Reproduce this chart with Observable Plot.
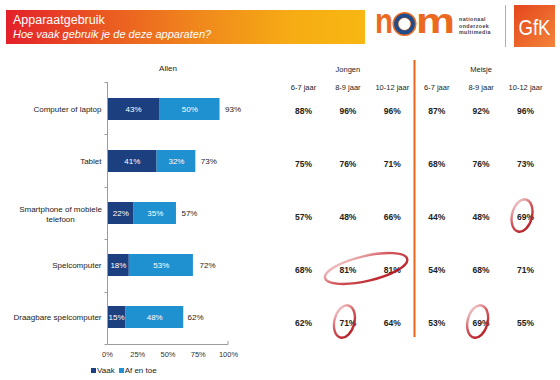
<!DOCTYPE html>
<html>
<head>
<meta charset="utf-8">
<script src="https://cdn.jsdelivr.net/npm/d3@7"></script>
<script src="https://cdn.jsdelivr.net/npm/@observablehq/plot@0.6"></script>
<style>
  body { margin: 0; background: #fff; }
  #root { position: relative; width: 560px; height: 380px; overflow: hidden; background: #fff;
          font-family: "Liberation Sans", Arial, sans-serif; }
  #banner { position: absolute; left: 6px; top: 10px; width: 359px; height: 34px;
            background: linear-gradient(90deg, #e3202b 0%, #ea5522 25%, #f08a1c 55%, #f6ac14 80%, #f8b712 100%); }
  #banner .t1 { position: absolute; left: 7px; top: 4.4px; color: #fff; font-size: 12.5px; line-height: 12.5px; white-space: nowrap; }
  #banner .t2 { position: absolute; left: 7px; top: 18.7px; color: #fff; font-size: 11px; line-height: 11px; font-style: italic; white-space: nowrap; }
  #logo { position: absolute; left: 0; top: 0; }
  #bars { position: absolute; left: 0; top: 56px; }
  #table { position: absolute; left: 270px; top: 56px; }
  #legend { position: absolute; left: 91px; top: 366px; }
  #legend > div { font-family: "Liberation Sans", Arial, sans-serif !important; font-size: 8px !important;
                  min-height: 0 !important; margin: 0 !important; color: #222 !important; }
  #legend span { margin-right: 4px !important; }
  #legend svg { margin-right: 1px !important; }
</style>
</head>
<body>
<div id="root">
  <div id="banner">
    <div class="t1">Apparaatgebruik</div>
    <div class="t2">Hoe vaak gebruik je de deze apparaten?</div>
  </div>
  <svg id="logo" width="560" height="56" xmlns="http://www.w3.org/2000/svg">
    <defs>
      <linearGradient id="gfkg" x1="0" y1="0" x2="1" y2="1">
        <stop offset="0" stop-color="#e4461b"/>
        <stop offset="1" stop-color="#f3843a"/>
      </linearGradient>
    </defs>
    <text x="375" y="33" font-family="Liberation Sans, Arial, sans-serif" font-weight="bold" font-size="35" fill="#ec6a1f" textLength="18" lengthAdjust="spacingAndGlyphs">n</text>
    <circle cx="404.5" cy="24" r="9" fill="none" stroke="#ec6a1f" stroke-width="6"/>
    <circle cx="404.5" cy="24" r="8.5" fill="none" stroke="#1d4d8c" stroke-width="4"/>
    <text x="416" y="33" font-family="Liberation Sans, Arial, sans-serif" font-weight="bold" font-size="35" fill="#ec6a1f" textLength="39" lengthAdjust="spacingAndGlyphs">m</text>
    <g font-family="Liberation Sans, Arial, sans-serif" font-weight="bold" font-size="5.3" fill="#3c3f52" letter-spacing="0.4">
      <text x="459" y="21">nationaal</text>
      <text x="459" y="27.5">onderzoek</text>
      <text x="459" y="34">multimedia</text>
    </g>
    <line x1="505.5" x2="505.5" y1="5" y2="47" stroke="#b0b0b0" stroke-width="1"/>
    <rect x="514" y="5" width="41" height="42" fill="url(#gfkg)"/>
    <text x="518.5" y="35" font-family="Liberation Sans, Arial, sans-serif" font-size="22" fill="#fff" textLength="32" lengthAdjust="spacingAndGlyphs">GfK</text>
  </svg>
  <div id="bars"></div>
  <div id="table"></div>
  <div id="legend"></div>
</div>
<script>
// ---------- data ----------
const categories = ["Computer of laptop", "Tablet", "Smartphone of mobiele telefoon", "Spelcomputer", "Draagbare spelcomputer"];
const categoryLabels = ["Computer of laptop", "Tablet", "Smartphone of mobiele\ntelefoon", "Spelcomputer", "Draagbare spelcomputer"];
const series = ["Vaak", "Af en toe"];
const vaak = [43, 41, 22, 18, 15];
const afEnToe = [50, 32, 35, 53, 48];
const totals = [93, 73, 57, 72, 62];
const xTicks = [0, 25, 50, 75, 100];
const colors = ["#1c3f7f", "#1f90d0"];

const groups = ["Jongen", "Meisje"];
const ages = ["6-7 jaar", "8-9 jaar", "10-12 jaar"];
// one array per age group, values per category
const jongen = [
  [88, 75, 57, 68, 62],
  [96, 76, 48, 81, 71],
  [96, 71, 66, 81, 64]
];
const meisje = [
  [87, 68, 44, 54, 53],
  [92, 76, 48, 68, 69],
  [96, 73, 69, 71, 55]
];
const highlights = [
  {group: "Meisje", ages: ["10-12 jaar"], category: "Smartphone of mobiele telefoon"},
  {group: "Jongen", ages: ["8-9 jaar", "10-12 jaar"], category: "Spelcomputer"},
  {group: "Jongen", ages: ["8-9 jaar"], category: "Draagbare spelcomputer"},
  {group: "Meisje", ages: ["8-9 jaar"], category: "Draagbare spelcomputer"}
];

// ---------- derived tables ----------
const seriesValues = [vaak, afEnToe];
const barData = series.flatMap((s, si) => categories.map((c, i) => ({category: c, series: s, value: seriesValues[si][i]})));
const totalData = categories.map((c, i) => ({category: c, total: totals[i]}));
const labelData = categories.map((c, i) => ({category: c, label: categoryLabels[i]}));

const groupValues = {Jongen: jongen, Meisje: meisje};
const colIndex = (g, a) => groups.indexOf(g) * ages.length + ages.indexOf(a);
const columns = groups.flatMap(g => ages.map(a => ({group: g, age: a, col: colIndex(g, a)})));
const cells = columns.flatMap(({group, age, col}) =>
  categories.map((c, r) => ({col, row: r, value: groupValues[group][ages.indexOf(age)][r]})));
const groupHeads = groups.map((g, gi) => ({group: g, col: gi * ages.length + (ages.length - 1) / 2}));

const font = "Liberation Sans, Arial, sans-serif";

// ---------- bar chart ----------
function barAxes(index, scales, values, dims) {
  const g = d3.create("svg:g").attr("stroke", "#9c9c9c").attr("fill", "none").attr("stroke-width", 1);
  const top = dims.marginTop, bottom = dims.height - dims.marginBottom;
  const x0 = Math.round(scales.x(0)) + 0.5;
  const xMax = scales.x(d3.max(xTicks));
  g.append("line").attr("x1", x0).attr("x2", x0).attr("y1", top).attr("y2", bottom);
  const step = (bottom - top) / categories.length;
  for (let i = 0; i <= categories.length; i++) {
    const y = Math.round(top + i * step) + 0.5;
    g.append("line").attr("x1", x0 - 3).attr("x2", x0).attr("y1", y).attr("y2", y);
  }
  g.append("line").attr("x1", x0).attr("x2", xMax).attr("y1", bottom + 0.5).attr("y2", bottom + 0.5);
  g.append("line").attr("x1", xMax).attr("x2", xMax).attr("y1", bottom - 3).attr("y2", bottom + 0.5);
  return g.node();
}

const bars = Plot.plot({
  width: 270,
  height: 310,
  marginLeft: 107,
  marginRight: 42,
  marginTop: 26,
  marginBottom: 22,
  style: {fontFamily: font, fontSize: "8px", color: "#222", background: "transparent", overflow: "visible"},
  x: {domain: [0, 100], axis: null},
  y: {domain: categories, paddingInner: 0.58, paddingOuter: 0.29, axis: null},
  color: {domain: series, range: colors},
  marks: [
    Plot.barX(barData, Plot.stackX({x: "value", y: "category", fill: "series"})),
    Plot.text(barData, Plot.stackX({x: "value", y: "category", z: "series", text: d => d.value + "%", fill: "#fff", fontSize: 8})),
    Plot.text(totalData, {x: "total", y: "category", text: d => d.total + "%", textAnchor: "start", dx: 5, fill: "#222", fontSize: 8}),
    Plot.text(labelData.filter(d => !d.label.includes("\n")), {y: "category", text: "label", frameAnchor: "left", dx: -6, textAnchor: "end", fill: "#222", fontSize: 8}),
    Plot.text(labelData.filter(d => d.label.includes("\n")), {y: "category", text: "label", frameAnchor: "left", dx: -47, textAnchor: "middle", lineHeight: 1.35, fill: "#222", fontSize: 8}),
    Plot.text(["Allen"], {x: 50, text: d => d, frameAnchor: "top", dy: -17, fill: "#222", fontSize: 8}),
    Plot.axisX({ticks: xTicks, tickFormat: d => d + "%", tickSize: 0, tickPadding: 7, fontSize: 7.5, color: "#333"}),
    barAxes
  ]
});
document.getElementById("bars").appendChild(bars);

document.getElementById("legend").appendChild(
  Plot.legend({color: {domain: series, range: colors}, swatchSize: 5, className: "lg"})
);

// ---------- table ----------
function ellipses(index, scales, values, dims) {
  const g = d3.create("svg:g");
  const defs = g.append("defs");
  const lg = defs.append("linearGradient").attr("id", "ellg").attr("x1", 0).attr("y1", 0).attr("x2", 1).attr("y2", 1);
  lg.append("stop").attr("offset", 0).attr("stop-color", "#c8262c").attr("stop-opacity", 0.12);
  lg.append("stop").attr("offset", 0.45).attr("stop-color", "#c41f27").attr("stop-opacity", 0.75);
  lg.append("stop").attr("offset", 1).attr("stop-color", "#b0141c").attr("stop-opacity", 1);
  for (const h of highlights) {
    const xs = h.ages.map(a => scales.x(colIndex(h.group, a)));
    const r = categories.indexOf(h.category);
    const cy = scales.y(r) - 1.5;
    let cx, rx, ry, rot;
    if (xs.length > 1) {
      cx = d3.mean(xs) - 3.5; rx = (d3.max(xs) - d3.min(xs)) / 2 + 20; ry = 12.5; rot = -13;
    } else {
      cx = xs[0] - 3; rx = 10; ry = 16.5; rot = 14;
    }
    g.append("ellipse")
      .attr("cx", 0).attr("cy", 0).attr("rx", rx).attr("ry", ry)
      .attr("transform", `translate(${cx},${cy}) rotate(${rot})`)
      .attr("fill", "none").attr("stroke", "url(#ellg)").attr("stroke-width", 2.4);
  }
  return g.node();
}

const table = Plot.plot({
  width: 290,
  height: 310,
  marginLeft: 10.8,
  marginRight: 12.8,
  marginTop: 28.5,
  marginBottom: 16.5,
  style: {fontFamily: font, fontSize: "8px", color: "#222", background: "transparent", overflow: "visible"},
  x: {domain: [-0.5, columns.length - 0.5], axis: null},
  y: {domain: [categories.length - 0.5, -0.5], axis: null},
  marks: [
    Plot.ruleX([ages.length - 0.5], {x: d => d, stroke: "#e8661c", strokeWidth: 2, insetTop: -24.5, insetBottom: 12.5}),
    Plot.text(groupHeads, {x: "col", text: "group", frameAnchor: "top", dy: -18.5, fill: "#222", fontSize: 7.5}),
    Plot.text(columns, {x: "col", text: "age", frameAnchor: "top", dy: 0, fill: "#222", fontSize: 7.5}),
    Plot.text(cells, {x: "col", y: "row", text: d => d.value + "%", fontWeight: "bold", fill: "#222", fontSize: 8.5}),
    ellipses
  ]
});
document.getElementById("table").appendChild(table);
</script>
</body>
</html>
